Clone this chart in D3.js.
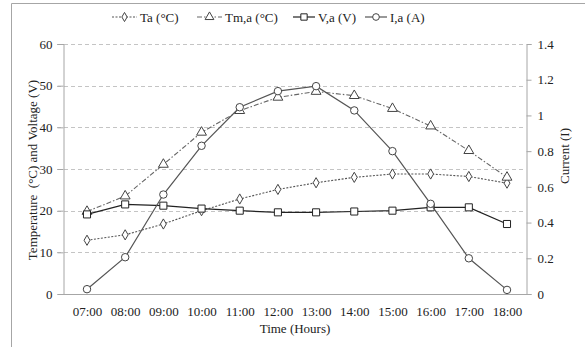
<!DOCTYPE html>
<html><head><meta charset="utf-8">
<script src="https://cdn.jsdelivr.net/npm/d3@7"></script>
<style>body{margin:0;background:#fff;} svg{display:block;font-family:"Liberation Serif","Times New Roman",serif;}</style>
</head><body>
<svg id="c" width="585" height="347"></svg>
<script>
const hours = ["07:00","08:00","09:00","10:00","11:00","12:00","13:00","14:00","15:00","16:00","17:00","18:00"];
const taValues = [12.9,14.2,16.8,20.0,22.8,25.1,26.7,28.0,28.8,28.8,28.2,26.6];
const tmValues = [19.8,23.5,31.1,38.8,44.0,47.2,48.6,47.6,44.5,40.3,34.4,28.0];
const vValues = [19.1,21.5,21.2,20.5,20.0,19.6,19.6,19.8,20.0,20.8,20.8,16.8];
const iValues = [0.027,0.206,0.557,0.83,1.046,1.136,1.164,1.028,0.80,0.505,0.20,0.023];
const leftTicks = [0,10,20,30,40,50,60];
const rightTicks = [0,0.2,0.4,0.6,0.8,1,1.2,1.4];
const seriesNames = ["Ta (°C)","Tm,a (°C)","V,a (V)","I,a (A)"];

const svg = d3.select("#c");
const L = 63, R = 526, T = 44, B = 294;
const x = d3.scalePoint().domain(hours).range([87, 507]);
const yL = d3.scaleLinear().domain([0,60]).range([B,T]);
const yR = d3.scaleLinear().domain([0,1.4]).range([B,T]);

// frame
svg.append("line").attr("x1",11.5).attr("x2",585).attr("y1",3.5).attr("y2",3.5).attr("stroke","#a6a6a6");
svg.append("line").attr("x1",11.5).attr("x2",11.5).attr("y1",3.5).attr("y2",347).attr("stroke","#a6a6a6");

// gridlines
svg.append("g").selectAll("line").data(leftTicks.filter(d=>d>0)).join("line")
  .attr("x1",L-6).attr("x2",R).attr("y1",d=>Math.round(yL(d))+0.5).attr("y2",d=>Math.round(yL(d))+0.5)
  .attr("stroke","#c4c4c4").attr("stroke-dasharray","4,3");

// left axis
const gl = svg.append("g").attr("transform",`translate(${L+0.5},0)`)
  .call(d3.axisLeft(yL).tickValues(leftTicks).tickSize(6).tickPadding(5).tickFormat(d3.format("d")));
gl.select(".domain").attr("stroke","#a6a6a6");
gl.selectAll(".tick line").attr("stroke","#a6a6a6");
gl.selectAll("text").attr("font-size",13).attr("fill","#222").attr("font-family","Liberation Serif");

// right axis
const gr = svg.append("g").attr("transform",`translate(${R+0.5},0)`)
  .call(d3.axisRight(yR).tickValues(rightTicks).tickSize(5).tickPadding(6).tickFormat(d=>d3.format("")(+d.toFixed(1))));
gr.select(".domain").attr("stroke","#a6a6a6");
gr.selectAll(".tick line").attr("stroke","#a6a6a6");
gr.selectAll("text").attr("font-size",13).attr("fill","#222").attr("font-family","Liberation Serif");

// bottom axis
svg.append("line").attr("x1",L).attr("x2",R+1).attr("y1",B+0.5).attr("y2",B+0.5).attr("stroke","#a6a6a6");
const gb = svg.append("g").attr("transform",`translate(0,${B})`)
  .call(d3.axisBottom(x).tickSize(0).tickPadding(13));
gb.select(".domain").remove();
gb.selectAll("text").attr("font-size",13).attr("fill","#222").attr("font-family","Liberation Serif");

// titles
svg.append("text").attr("x",295).attr("y",333).attr("text-anchor","middle").attr("font-size",13).attr("fill","#222").text("Time (Hours)");
svg.append("text").attr("transform","translate(37,170) rotate(-90)").attr("text-anchor","middle").attr("font-size",13).attr("fill","#222").attr("xml:space","preserve").text("Temperature  (°C) and Voltage (V)");
svg.append("text").attr("transform","translate(569,156) rotate(-90)").attr("text-anchor","middle").attr("font-size",13).attr("fill","#222").text("Current (I)");

const series = [
  {name:seriesNames[0], vals:taValues, y:yL, stroke:"#555", dash:"2,1.5", w:1.1, marker:"diamond"},
  {name:seriesNames[1], vals:tmValues, y:yL, stroke:"#666", dash:"5,2,1.5,2", w:1.1, marker:"triangle"},
  {name:seriesNames[2], vals:vValues, y:yL, stroke:"#222", dash:null, w:1.2, marker:"square"},
  {name:seriesNames[3], vals:iValues, y:yR, stroke:"#555", dash:null, w:1.2, marker:"circle"}
];
const symSize = {diamond:30, triangle:42, square:50, circle:44};
const symType = {diamond:d3.symbolDiamond, triangle:d3.symbolTriangle, square:d3.symbolSquare, circle:d3.symbolCircle};

function drawMarker(g, m, cx, cy, stroke, scale=1){
  g.append("path").attr("d", d3.symbol().type(symType[m]).size(symSize[m]*scale)())
    .attr("transform",`translate(${cx},${cy})`).attr("fill","#fff").attr("stroke",stroke).attr("stroke-width",1);
}

series.forEach(s=>{
  const line = d3.line().x((d,i)=>x(hours[i])).y(d=>s.y(d));
  svg.append("path").datum(s.vals).attr("d",line).attr("fill","none").attr("stroke",s.stroke)
    .attr("stroke-width",s.w).attr("stroke-dasharray",s.dash);
  const g = svg.append("g");
  s.vals.forEach((v,i)=>drawMarker(g, s.marker, x(hours[i]), s.y(v), s.marker==="square"?"#222":"#444"));
});

// legend
const legX = [112, 197, 293, 365];
const legY = 17;
series.forEach((s,i)=>{
  const g = svg.append("g");
  const x0 = legX[i], x1 = x0 + (i<2?25:22);
  g.append("line").attr("x1",x0).attr("x2",x1).attr("y1",legY).attr("y2",legY).attr("stroke",s.stroke)
    .attr("stroke-width",s.w).attr("stroke-dasharray",s.dash);
  drawMarker(g, s.marker, (x0+x1)/2, legY, s.marker==="square"?"#222":"#444", 0.8);
  g.append("text").attr("x",x1+3).attr("y",legY+4.5).attr("font-size",13).attr("fill","#222").text(s.name);
});
</script>
</body></html>
